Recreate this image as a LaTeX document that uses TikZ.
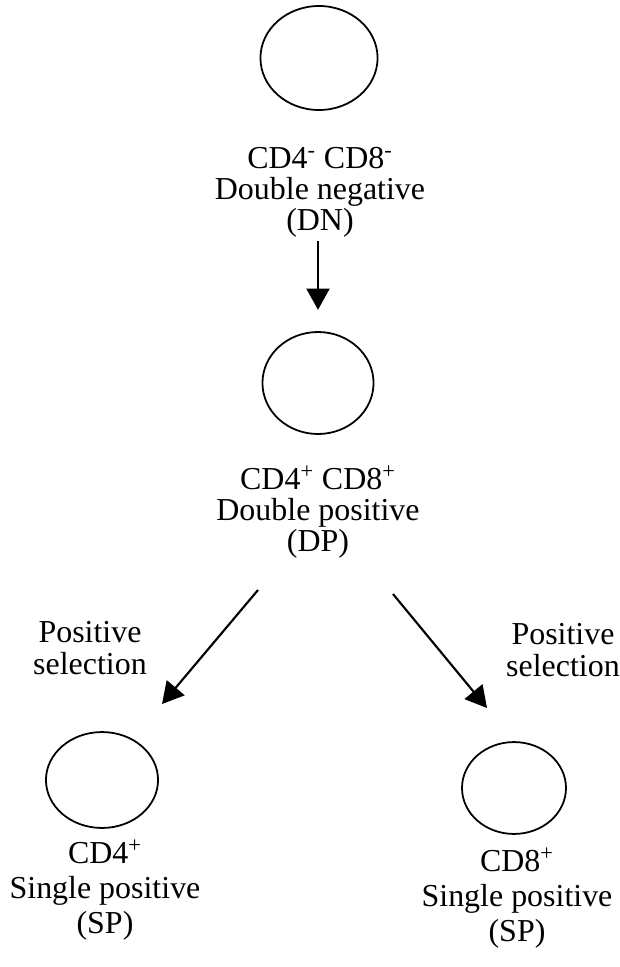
\documentclass[tikz,border=0pt]{standalone}
\usepackage{fontspec}
\setmainfont{Liberation Serif}
\usepackage{tikz}
\usetikzlibrary{arrows.meta, shapes.geometric, positioning}
\tikzset{cell/.style={ellipse, draw, line width=1pt, inner sep=0pt},
    label text/.style={align=center, inner sep=0pt, font=\fontsize{18}{#1}\selectfont},
    label text/.default=17.4,
    step arrow/.style={draw, line width=1.2pt, -{Triangle[length=12pt,width=13pt]}}}

\begin{document}
\begin{tikzpicture}[x=0.0198cm, y=-0.0198cm]
  \useasboundingbox (0,0) rectangle (619,967);

  % Cells
  \node[cell, minimum width=2.32cm, minimum height=2.06cm] (DN) at (319,58) {};
  \node[cell, minimum width=2.2cm, minimum height=2.02cm] (DP) at (318,383) {};
  \node[cell, minimum width=2.22cm, minimum height=1.9cm] (SP4) at (102,780) {};
  \node[cell, minimum width=2.06cm, minimum height=1.82cm] (SP8) at (514,788) {};

  % Labels
  \node[label text] (DNtext) at (320,192) {CD4\textsuperscript{-} CD8\textsuperscript{-}\\Double negative\\(DN)};
  \node[label text] (DPtext) at (318,512) {CD4\textsuperscript{+} CD8\textsuperscript{+}\\Double positive\\(DP)};
  \node[label text=19.6] (SP4text) at (105,890) {CD4\textsuperscript{+}\\Single positive\\(SP)};
  \node[label text=19.6] (SP8text) at (517,898) {CD8\textsuperscript{+}\\Single positive\\(SP)};
  \node[label text=18] (selL) at (90,648) {Positive\\selection};
  \node[label text=18] (selR) at (563,650) {Positive\\selection};

  % Arrows
  \coordinate (lstart) at (258,590);
  \coordinate (lend) at (162,704);
  \coordinate (rstart) at (393,594);
  \coordinate (rend) at (487,708);
  \draw[step arrow, shorten <=2pt, shorten >=12pt] (DNtext.south -| DP.north) -- (DP.north);
  \draw[step arrow] (lstart) -- (lend);
  \draw[step arrow] (rstart) -- (rend);

\end{tikzpicture}
\end{document}
